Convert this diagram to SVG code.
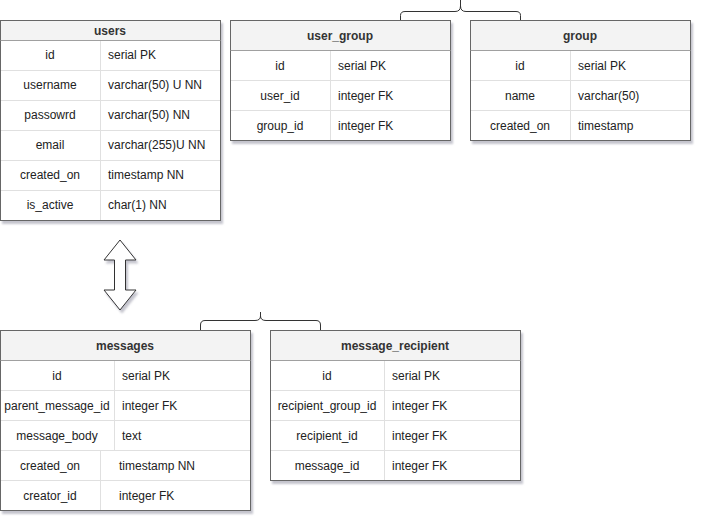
<svg xmlns="http://www.w3.org/2000/svg" width="702" height="522" viewBox="0 0 702 522">
  <defs>
    <filter id="shadow" x="-10%" y="-10%" width="130%" height="130%">
      <feDropShadow dx="2" dy="3" stdDeviation="1.2" flood-color="#7a7a90" flood-opacity="0.45"/>
    </filter>
  </defs>
  <style>
    text { font-family: "Liberation Sans", Arial, sans-serif; font-size: 12px; fill: #222; }
    .title { font-weight: bold; text-anchor: middle; fill: #333; }
    .key { text-anchor: middle; }
    .frame { fill: #ffffff; stroke: #666666; stroke-width: 1; filter: url(#shadow); }
    .head { fill: #f3f3f3; stroke: none; }
    .headline { stroke: #a0a0a0; stroke-width: 1; fill: none; }
    .grid { stroke: #e0e0e0; stroke-width: 1; fill: none; }
    .brace { fill: none; stroke: #333333; stroke-width: 1; }
    .arrow { fill: #ffffff; stroke: #333333; stroke-width: 1; filter: url(#shadow); }
  </style>

  <!-- users -->
  <g id="users">
    <rect class="frame" x="0.5" y="20.5" width="220" height="200"/>
    <rect class="head" x="1" y="21" width="219" height="19"/>
    <line class="headline" x1="0.5" y1="40.5" x2="220.5" y2="40.5"/>
    <path class="grid" d="M1,70.5H220M1,100.5H220M1,130.5H220M1,160.5H220M1,190.5H220M100.5,41V220"/>
    <text class="title" x="110" y="35">users</text>
    <text class="key" x="50" y="59">id</text><text x="108" y="59">serial PK</text>
    <text class="key" x="50" y="89">username</text><text x="108" y="89">varchar(50) U NN</text>
    <text class="key" x="50" y="119">passowrd</text><text x="108" y="119">varchar(50) NN</text>
    <text class="key" x="50" y="149">email</text><text x="108" y="149">varchar(255)U NN</text>
    <text class="key" x="50" y="179">created_on</text><text x="108" y="179">timestamp NN</text>
    <text class="key" x="50" y="209">is_active</text><text x="108" y="209">char(1) NN</text>
  </g>

  <!-- user_group -->
  <g id="user_group">
    <rect class="frame" x="230.5" y="20.5" width="220" height="120"/>
    <rect class="head" x="231" y="21" width="219" height="29"/>
    <line class="headline" x1="230.5" y1="50.5" x2="450.5" y2="50.5"/>
    <path class="grid" d="M231,80.5H450M231,110.5H450M330.5,51V140"/>
    <text class="title" x="340" y="40">user_group</text>
    <text class="key" x="280" y="70">id</text><text x="338" y="70">serial PK</text>
    <text class="key" x="280" y="100">user_id</text><text x="338" y="100">integer FK</text>
    <text class="key" x="280" y="130">group_id</text><text x="338" y="130">integer FK</text>
  </g>

  <!-- group -->
  <g id="group">
    <rect class="frame" x="470.5" y="20.5" width="220" height="120"/>
    <rect class="head" x="471" y="21" width="219" height="29"/>
    <line class="headline" x1="470.5" y1="50.5" x2="690.5" y2="50.5"/>
    <path class="grid" d="M471,80.5H690M471,110.5H690M570.5,51V140"/>
    <text class="title" x="580" y="40">group</text>
    <text class="key" x="520" y="70">id</text><text x="578" y="70">serial PK</text>
    <text class="key" x="520" y="100">name</text><text x="578" y="100">varchar(50)</text>
    <text class="key" x="520" y="130">created_on</text><text x="578" y="130">timestamp</text>
  </g>

  <!-- messages -->
  <g id="messages">
    <rect class="frame" x="0.5" y="330.5" width="250" height="180"/>
    <rect class="head" x="1" y="331" width="249" height="29"/>
    <line class="headline" x1="0.5" y1="360.5" x2="250.5" y2="360.5"/>
    <path class="grid" d="M1,390.5H250M1,420.5H250M1,450.5H250M1,480.5H250M114.5,361V450M100.5,451V510"/>
    <text class="title" x="125" y="350">messages</text>
    <text class="key" x="57" y="380">id</text><text x="122" y="380">serial PK</text>
    <text class="key" x="57" y="410">parent_message_id</text><text x="122" y="410">integer FK</text>
    <text class="key" x="57" y="440">message_body</text><text x="122" y="440">text</text>
    <text class="key" x="50" y="470">created_on</text><text x="119" y="470">timestamp NN</text>
    <text class="key" x="50" y="500">creator_id</text><text x="119" y="500">integer FK</text>
  </g>

  <!-- message_recipient -->
  <g id="message_recipient">
    <rect class="frame" x="270.5" y="330.5" width="250" height="150"/>
    <rect class="head" x="271" y="331" width="249" height="29"/>
    <line class="headline" x1="270.5" y1="360.5" x2="520.5" y2="360.5"/>
    <path class="grid" d="M271,390.5H520M271,420.5H520M271,450.5H520M384.5,361V480"/>
    <text class="title" x="395" y="350">message_recipient</text>
    <text class="key" x="327" y="380">id</text><text x="392" y="380">serial PK</text>
    <text class="key" x="327" y="410">recipient_group_id</text><text x="392" y="410">integer FK</text>
    <text class="key" x="327" y="440">recipient_id</text><text x="392" y="440">integer FK</text>
    <text class="key" x="327" y="470">message_id</text><text x="392" y="470">integer FK</text>
  </g>

  <!-- connectors: braces and the two-way arrow -->
  <g id="connectors">
    <path class="brace" d="M400.5,20V15.5Q400.5,11.5 405,11.5H455Q460.5,11.5 460.5,6V0M460.5,6Q460.5,11.5 466,11.5H516Q520.5,11.5 520.5,15.5V20"/>
    <path class="brace" d="M200.5,330V325Q200.5,320.5 205,320.5H255Q260.5,320.5 260.5,316V312M260.5,316Q260.5,320.5 266,320.5H316Q320.5,320.5 320.5,325V330"/>
    <polygon class="arrow" points="120,240 136,260 125.5,260 125.5,290 136,290 120,310 104,290 114.5,290 114.5,260 104,260"/>
  </g>
</svg>
